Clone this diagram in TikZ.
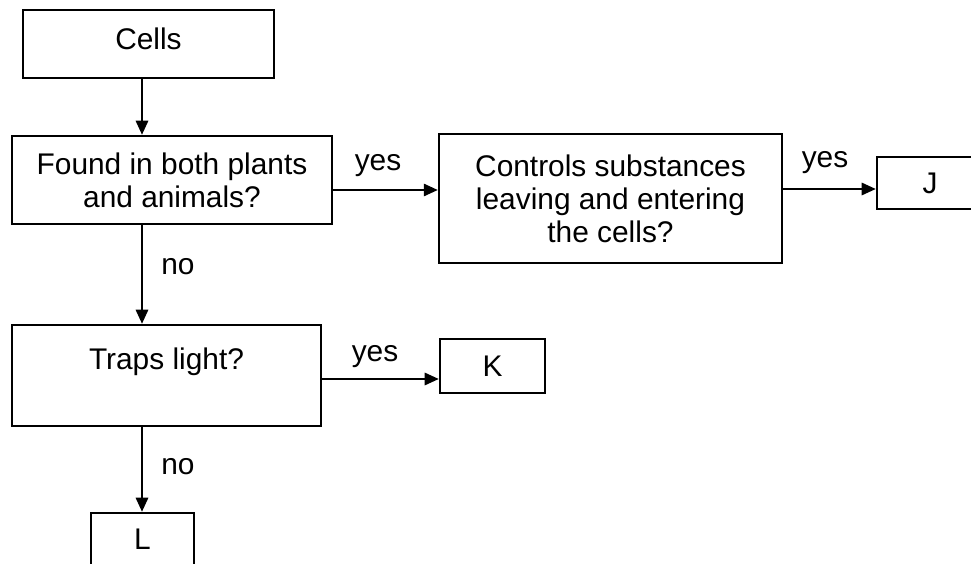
\documentclass[tikz,border=0pt]{standalone}
\usepackage{fontspec}
\setmainfont{Liberation Sans}
\usetikzlibrary{arrows.meta}

\begin{document}
\begin{tikzpicture}[x=0.02cm, y=-0.02cm,
  box/.style={shape=rectangle, draw=black, line width=1.4pt, inner sep=0pt, align=center, font=\fontsize{17}{18.8}\selectfont},
  lab/.style={inner sep=0pt, font=\fontsize{17}{18.8}\selectfont},
  arr/.style={line width=1.2pt, -{Triangle[length=8pt, width=7pt]}}]
\useasboundingbox (0,0) rectangle (971,564);
\node[box, minimum width=5.02cm, minimum height=1.36cm, text depth=0.2cm] (Cells) at (148.5,44) {Cells};
\node[box, minimum width=6.4cm, minimum height=1.76cm] (Found) at (172,180) {Found in both plants\\and animals?};
\node[box, minimum width=6.86cm, minimum height=2.58cm] (Controls) at (610.5,198.5) {Controls substances\\leaving and entering\\the cells?};
\node[box, minimum width=2.12cm, minimum height=1.04cm] (J) at (930,183) {J};
\node[box, minimum width=6.18cm, minimum height=2.02cm] (Traps) at (166.5,375.5) {Traps light?\\~};
\node[box, minimum width=2.1cm, minimum height=1.08cm] (K) at (492.5,366) {K};
\node[box, minimum width=2.06cm, minimum height=1.04cm] (L) at (142.5,539) {L};
\coordinate (trunk) at (142,0);
\node[lab] (yes1) at (378,166) {yes};
\node[lab] (yes2) at (825,163) {yes};
\node[lab] (yes3) at (375,357) {yes};
\node[lab] (no1) at (178,267) {no};
\node[lab] (no2) at (178,467) {no};
\path[arr] (Cells.south -| trunk) edge (Found.north -| trunk);
\path[arr] (Found.south -| trunk) edge (Traps.north -| trunk);
\path[arr] (Traps.south -| trunk) edge (L.north -| trunk);
\path[arr] ([yshift=-0.2cm]Found.east) edge ([yshift=-0.2cm]Found.east -| Controls.west);
\path[arr] ([yshift=0.19cm]Controls.east) edge ([yshift=0.19cm]Controls.east -| J.west);
\path[arr] ([yshift=-0.07cm]Traps.east) edge ([yshift=-0.07cm]Traps.east -| K.west);
\end{tikzpicture}
\end{document}
